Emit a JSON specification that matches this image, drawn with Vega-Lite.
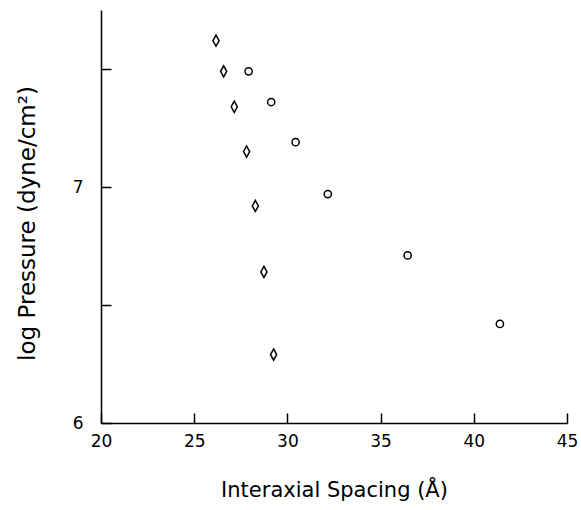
{
  "$schema": "https://vega.github.io/schema/vega-lite/v6.json",
  "autosize": "none",
  "width": 466,
  "height": 413,
  "padding": {"left": 101, "top": 10, "right": 14, "bottom": 87},
  "background": "white",
  "config": {
    "view": {"stroke": null},
    "font": "DejaVu Sans",
    "axis": {
      "domainColor": "black",
      "domainWidth": 1.5,
      "tickColor": "black",
      "tickWidth": 1.5,
      "tickSize": -10,
      "grid": false,
      "labelColor": "black",
      "titleColor": "black",
      "labelFont": "DejaVu Sans",
      "titleFont": "DejaVu Sans",
      "titleFontWeight": "normal",
      "labelFontSize": 17,
      "labelFlush": false,
      "labelOverlap": false
    }
  },
  "data": {
    "values": [
      {"spacing": 26.17, "logP": 7.62, "series": "A"},
      {"spacing": 26.58, "logP": 7.49, "series": "A"},
      {"spacing": 27.15, "logP": 7.34, "series": "A"},
      {"spacing": 27.81, "logP": 7.15, "series": "A"},
      {"spacing": 28.28, "logP": 6.92, "series": "A"},
      {"spacing": 28.74, "logP": 6.64, "series": "A"},
      {"spacing": 29.26, "logP": 6.29, "series": "A"},
      {"spacing": 27.92, "logP": 7.49, "series": "B"},
      {"spacing": 29.13, "logP": 7.36, "series": "B"},
      {"spacing": 30.44, "logP": 7.19, "series": "B"},
      {"spacing": 32.17, "logP": 6.97, "series": "B"},
      {"spacing": 36.45, "logP": 6.71, "series": "B"},
      {"spacing": 41.40, "logP": 6.42, "series": "B"}
    ]
  },
  "mark": {"type": "point", "filled": false, "strokeWidth": 1.5, "color": "black", "opacity": 1},
  "encoding": {
    "x": {
      "field": "spacing",
      "type": "quantitative",
      "scale": {"domain": [20, 45], "nice": false, "zero": false},
      "axis": {
        "values": [20, 25, 30, 35, 40, 45],
        "title": "Interaxial Spacing (Å)",
        "titleFontSize": 21,
        "labelPadding": 20,
        "titlePadding": 30
      }
    },
    "y": {
      "field": "logP",
      "type": "quantitative",
      "scale": {"domain": [6, 7.75], "nice": false, "zero": false},
      "axis": {
        "values": [6, 6.5, 7, 7.5],
        "labelExpr": "datum.value % 1 === 0 ? format(datum.value, 'd') : ''",
        "title": "log Pressure (dyne/cm²)",
        "titleFontSize": 23,
        "labelPadding": 28,
        "titlePadding": 33,
        "titleY": 213
      }
    },
    "shape": {
      "field": "series",
      "type": "nominal",
      "scale": {"domain": ["A", "B"], "range": ["M0,-1L0.55,0L0,1L-0.55,0Z", "circle"]},
      "legend": null
    },
    "size": {
      "field": "series",
      "type": "nominal",
      "scale": {"domain": ["A", "B"], "range": [125, 52]},
      "legend": null
    }
  }
}
